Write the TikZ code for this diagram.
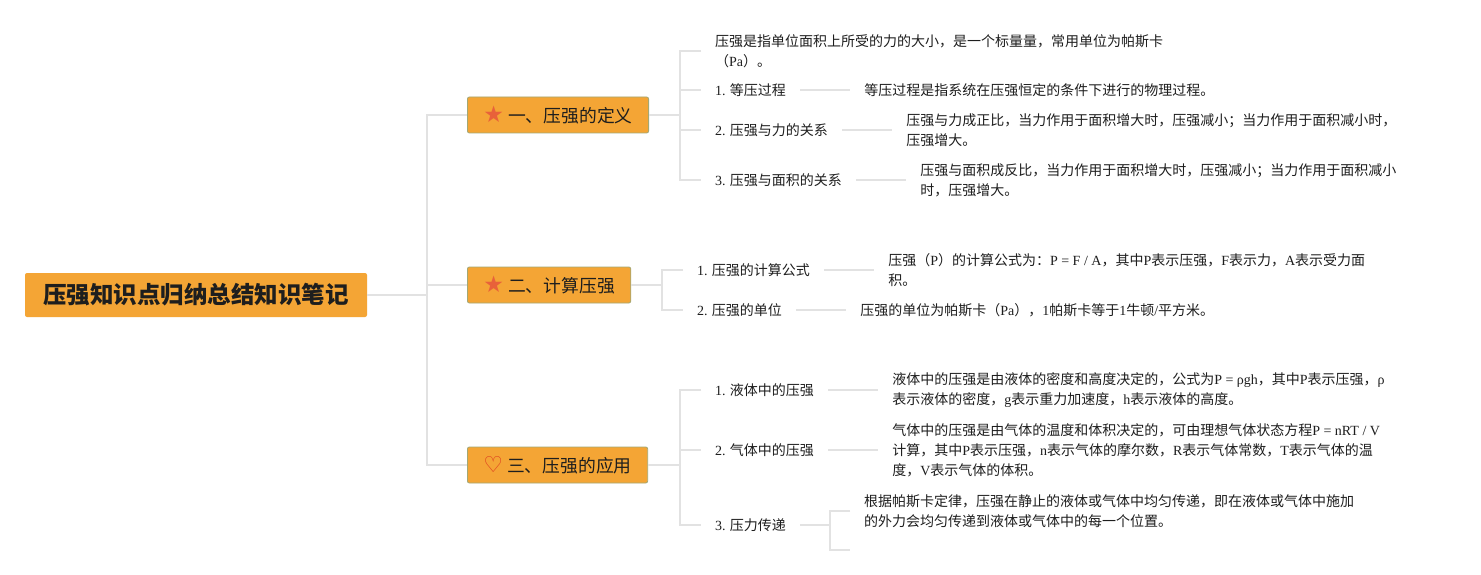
\documentclass[tikz,border=0pt]{standalone}
\usepackage{fontspec}
\setmainfont{Noto Sans CJK SC}
\newfontfamily\lat{Liberation Serif}
\newfontfamily\sym{DejaVu Sans}
\usetikzlibrary{positioning}
\definecolor{boxc}{HTML}{F4A535}
\definecolor{edgec}{HTML}{A3A874}
\definecolor{linec}{HTML}{E2E2E2}
\definecolor{starc}{HTML}{E8623A}
\definecolor{heartc}{HTML}{DD3A1E}
\definecolor{txtc}{HTML}{1E1E1E}
\newcommand{\en}[1]{{\lat #1}}
\newcommand{\stari}{{\sym\fontsize{23}{20}\selectfont\color{starc}★}}
\newcommand{\hearti}{{\sym\fontsize{22}{20}\selectfont\color{heartc}♡}}

\begin{document}
\begin{tikzpicture}[x=1pt,y=-1pt,
rt/.style={fill=boxc,rounded corners=2pt,minimum width=342pt,minimum height=44pt,
inner sep=0pt,text=txtc,font=\fontsize{23.5}{26}\selectfont\bfseries},
br/.style={draw=edgec,fill=boxc,rounded corners=2pt,line width=0.8pt,
minimum height=36pt,inner xsep=16pt,anchor=west,text=txtc,font=\fontsize{17.8}{20}\selectfont},
lf/.style={anchor=west,inner xsep=14pt,inner ysep=2pt,text=txtc,font=\fontsize{14}{20}\selectfont},
ds/.style={lf,align=left},
ln/.style={draw=linec,line width=1.6pt}]
\useasboundingbox (0,0) rectangle (1481,575);
\fill[white] (0,0) rectangle (1481,575);

\node[rt] (root) at (196,295) {压强知识点归纳总结知识笔记};
\node[br] (b1) at (467,115) {\stari\ 一、压强的定义};
\node[br] (b2) at (467,285) {\stari\ 二、计算压强};
\node[br] (b3) at (467,465) {\hearti\ 三、压强的应用};

\coordinate (s0) at (427,295);
\coordinate (s1) at (680,115);
\coordinate (s2) at (662,285);
\coordinate (s3) at (680,465);

\node[ds] (a0) at (701,51) {压强是指单位面积上所受的力的大小，是一个标量量，常用单位为帕斯卡\\（\en{Pa}）。};
\node[lf] (a1) at (701,90) {\en{1.} 等压过程};
\node[ds,right=50pt of a1] (d1) {等压过程是指系统在压强恒定的条件下进行的物理过程。};
\node[lf] (a2) at (701,130) {\en{2.} 压强与力的关系};
\node[ds,right=50pt of a2] (d2) {压强与力成正比，当力作用于面积增大时，压强减小；当力作用于面积减小时，\\压强增大。};
\node[lf] (a3) at (701,180) {\en{3.} 压强与面积的关系};
\node[ds,right=50pt of a3] (d3) {压强与面积成反比，当力作用于面积增大时，压强减小；当力作用于面积减小\\时，压强增大。};

\node[lf] (c1) at (683,270) {\en{1.} 压强的计算公式};
\node[ds,right=50pt of c1] (e1) {压强（\en{P}）的计算公式为：\en{P = F / A}，其中\en{P}表示压强，\en{F}表示力，\en{A}表示受力面\\积。};
\node[lf] (c2) at (683,310) {\en{2.} 压强的单位};
\node[ds,right=50pt of c2] (e2) {压强的单位为帕斯卡（\en{Pa}），\en{1}帕斯卡等于\en{1}牛顿\en{/}平方米。};

\node[lf] (f1) at (701,390) {\en{1.} 液体中的压强};
\node[ds,right=50pt of f1] (g1) {液体中的压强是由液体的密度和高度决定的，公式为\en{P = ρgh}，其中\en{P}表示压强，\en{ρ}\\表示液体的密度，\en{g}表示重力加速度，\en{h}表示液体的高度。};
\node[lf] (f2) at (701,450) {\en{2.} 气体中的压强};
\node[ds,right=50pt of f2] (g2) {气体中的压强是由气体的温度和体积决定的，可由理想气体状态方程\en{P = nRT / V}\\计算，其中\en{P}表示压强，\en{n}表示气体的摩尔数，\en{R}表示气体常数，\en{T}表示气体的温\\度，\en{V}表示气体的体积。};
\node[lf] (f3) at (701,525) {\en{3.} 压力传递};
\coordinate (t3) at ([xshift=30pt]f3.east);
\node[ds] (g3) at (850,511) {根据帕斯卡定律，压强在静止的液体或气体中均匀传递，即在液体或气体中施加\\的外力会均匀传递到液体或气体中的每一个位置。};
\coordinate (t4) at (850,550);

\draw[ln] (root.east) -- (s0);
\draw[ln] (b1.west) -| (s0) |- (b3.west);
\draw[ln] (s0) |- (b2.west);

\draw[ln] (b1.east) -- (s1);
\draw[ln] (a0.west) -| (s1) |- (a3.west);
\draw[ln] (s1) |- (a1.west) (s1) |- (a2.west);
\draw[ln] (a1.east) -- (d1.west);
\draw[ln] (a2.east) -- (d2.west);
\draw[ln] (a3.east) -- (d3.west);

\draw[ln] (b2.east) -- (s2);
\draw[ln] (c1.west) -| (s2) |- (c2.west);
\draw[ln] (c1.east) -- (e1.west);
\draw[ln] (c2.east) -- (e2.west);

\draw[ln] (b3.east) -- (s3);
\draw[ln] (f1.west) -| (s3) |- (f3.west);
\draw[ln] (s3) |- (f2.west);
\draw[ln] (f1.east) -- (g1.west);
\draw[ln] (f2.east) -- (g2.west);
\draw[ln] (f3.east) -- (t3);
\draw[ln] (g3.west) -| (t3) |- (t4);
\end{tikzpicture}
\end{document}
